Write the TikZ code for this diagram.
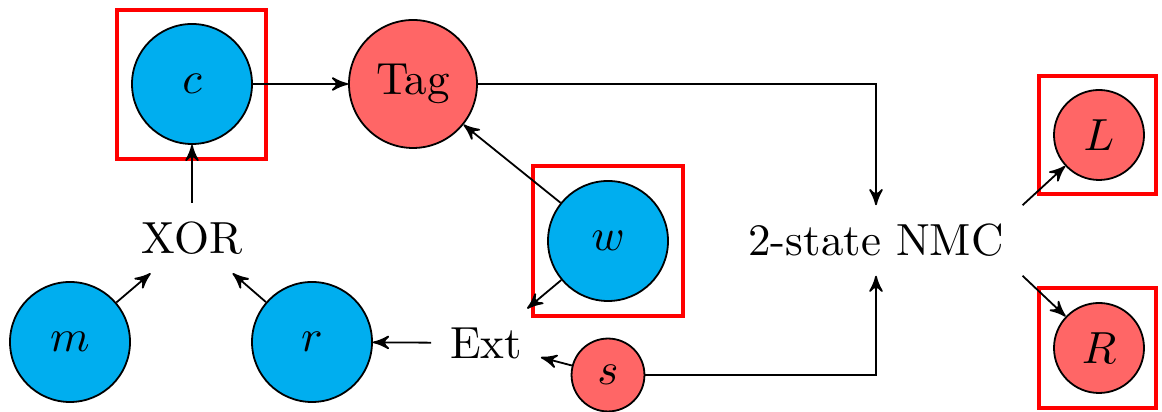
\documentclass[tikz,border=0pt]{standalone}
\usetikzlibrary{arrows}
\definecolor{nodeblue}{RGB}{0,174,239}
\definecolor{nodered}{RGB}{255,102,102}
\tikzset{
  bluenode/.style={circle,draw=black,fill=nodeblue,line width=0.4pt,minimum size=26.67pt,inner sep=0pt},
  rednode/.style={circle,draw=black,fill=nodered,line width=0.4pt,inner sep=0pt},
  textnode/.style={inner sep=4pt,minimum height=14.67pt},
  redbox/.style={rectangle,draw=red,line width=0.9pt,inner sep=0pt},
  arr/.style={-stealth',line width=0.4pt}
}
\begin{document}
\begin{tikzpicture}[x=0.2222pt,y=-0.2222pt]
\useasboundingbox (0,0) rectangle (1162,412);
% red boxes
\node[redbox,minimum width=33.1pt,minimum height=33.1pt] (cbox) at (191.5,84.5) {};
\node[redbox,minimum width=33.2pt,minimum height=33.2pt] (wbox) at (608,241) {};
\node[redbox,minimum width=26pt,minimum height=26.2pt] (Lbox) at (1097.5,135) {};
\node[redbox,minimum width=26pt,minimum height=26.7pt] (Rbox) at (1097.5,348) {};
% circles
\node[bluenode] (c) at (192,84) {$c$};
\node[rednode,minimum size=28.44pt] (tag) at (413,84) {Tag};
\node[bluenode] (w) at (608,241) {$w$};
\node[bluenode] (m) at (70,342) {$m$};
\node[bluenode] (r) at (312,342) {$r$};
\node[rednode,minimum size=20pt] (L) at (1099,135) {$L$};
\node[rednode,minimum size=20pt] (R) at (1099,348) {$R$};
\node[rednode,minimum size=16.2pt] (s) at (608,375) {$s$};
% text nodes
\node[textnode] (xor) at (192,238) {XOR};
\node[textnode] (ext) at (486,343) {Ext};
\node[textnode] (nmc) at (876,240.5) {2-state NMC};
% connectors
\draw[arr] (xor) -- (c);
\draw[arr] (m) -- (xor);
\draw[arr] (r) -- (xor);
\draw[arr] (c) -- (tag);
\draw[arr] (w) -- (tag);
\draw[arr] (w) -- (ext);
\draw[arr] (s) -- (ext);
\draw[arr] (ext) -- (r);
\draw[arr] (tag.east) -| (nmc.north);
\draw[arr] (s.east) -| (nmc.south);
\draw[arr] (nmc.north east) -- (L);
\draw[arr] (nmc.south east) -- (R);
\end{tikzpicture}
\end{document}
